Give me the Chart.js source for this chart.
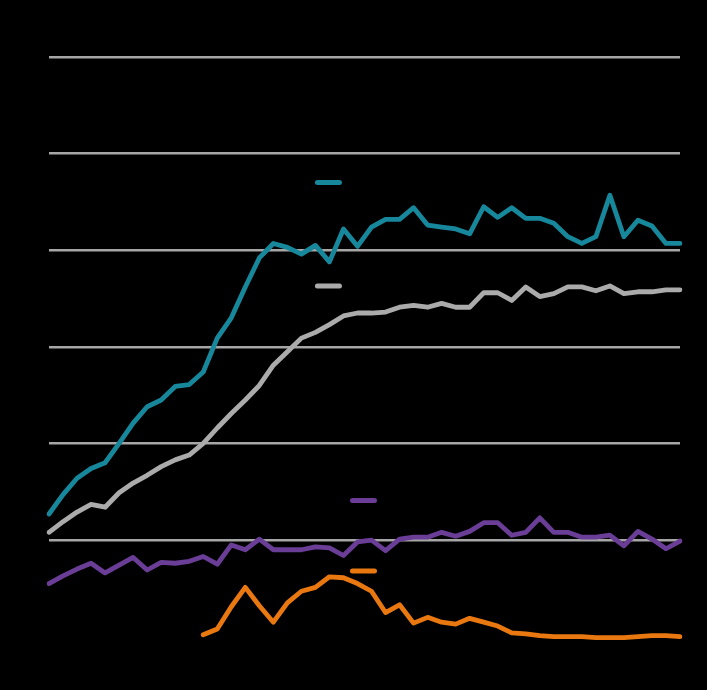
<!DOCTYPE html>
<html>
<head>
<meta charset="utf-8">
<script src="https://cdn.jsdelivr.net/npm/chart.js@4/dist/chart.umd.min.js"></script>
<style>
  html, body { margin: 0; padding: 0; background: #000; }
  #wrap { width: 707px; height: 690px; position: relative; }
</style>
</head>
<body>
<div id="wrap"><canvas id="c" width="707" height="690"></canvas></div>
<script>
// ---- data ----
const years = [];
for (let y = 1975; y <= 2020; y++) years.push(String(y));

const seriesNames = ["Series A", "Series B", "Series C", "Series D"];

const tealValues = [2.7, 4.7, 6.4, 7.4, 8.0, 10.0, 12.1, 13.8, 14.5, 15.9,
  16.1, 17.4, 20.9, 23.0, 26.2, 29.2, 30.7, 30.3, 29.6, 30.5,
  28.8, 32.2, 30.4, 32.4, 33.2, 33.2, 34.4, 32.6, 32.4, 32.2,
  31.7, 34.5, 33.4, 34.4, 33.3, 33.3, 32.8, 31.4, 30.7, 31.4,
  35.7, 31.4, 33.1, 32.5, 30.7, 30.7];

const grayValues = [0.8, 1.9, 2.9, 3.7, 3.4, 4.9, 5.9, 6.7, 7.6, 8.3,
  8.8, 10.0, 11.6, 13.1, 14.5, 16.0, 18.1, 19.5, 20.9, 21.5,
  22.3, 23.2, 23.5, 23.5, 23.6, 24.1, 24.3, 24.1, 24.5, 24.1,
  24.1, 25.6, 25.6, 24.8, 26.2, 25.2, 25.5, 26.2, 26.2, 25.8,
  26.3, 25.5, 25.7, 25.7, 25.9, 25.9];

const purpleValues = [-4.5, -3.7, -3.0, -2.4, -3.4, -2.6, -1.8, -3.1, -2.3, -2.4,
  -2.2, -1.7, -2.5, -0.5, -1.0, 0.1, -1.0, -1.0, -1.0, -0.7,
  -0.8, -1.6, -0.2, 0.0, -1.1, 0.1, 0.3, 0.3, 0.8, 0.4,
  0.9, 1.8, 1.8, 0.5, 0.8, 2.3, 0.8, 0.8, 0.3, 0.3,
  0.5, -0.6, 0.9, 0.1, -0.9, -0.1];

const orangeValues = [null, null, null, null, null, null, null, null, null, null,
  null, -9.8, -9.2, -6.9, -4.9, -6.8, -8.5, -6.5, -5.3, -4.9,
  -3.8, -3.9, -4.5, -5.3, -7.5, -6.7, -8.6, -8.0, -8.5, -8.7,
  -8.1, -8.5, -8.9, -9.6, -9.7, -9.9, -10.0, -10.0, -10.0, -10.1,
  -10.1, -10.1, -10.0, -9.9, -9.9, -10.0];

const yTickValues = [0, 10, 20, 30, 40, 50];

// ---- chart ----
const colors = ["#17879b", "#ababab", "#6a3d97", "#e8780f"];

const bgPlugin = {
  id: 'bg',
  beforeDraw(chart) {
    const ctx = chart.ctx;
    ctx.save();
    ctx.fillStyle = '#000';
    ctx.fillRect(0, 0, chart.width, chart.height);
    ctx.restore();
  }
};

// inline series labels: short line key + text, placed in data coordinates
const keyPlugin = {
  id: 'keys',
  afterDatasetsDraw(chart, args, opts) {
    const ctx = chart.ctx;
    const xs = chart.scales.x, ys = chart.scales.y;
    opts.items.forEach((it) => {
      const ds = chart.data.datasets[it.dataset];
      const x0 = xs.getPixelForValue(it.at[0]);
      const y0 = ys.getPixelForValue(it.at[1]);
      ctx.save();
      ctx.strokeStyle = ds.borderColor;
      ctx.lineWidth = 5;
      ctx.lineCap = 'round';
      ctx.beginPath();
      ctx.moveTo(x0 + 2, y0);
      ctx.lineTo(x0 + 24, y0);
      ctx.stroke();
      ctx.fillStyle = '#000';
      ctx.font = '16px "Liberation Sans", Arial, sans-serif';
      ctx.textBaseline = 'middle';
      ctx.fillText(ds.label, x0 + 32, y0);
      ctx.restore();
    });
  }
};

new Chart(document.getElementById('c'), {
  type: 'line',
  data: {
    labels: years,
    datasets: [
      { label: seriesNames[0], data: tealValues, borderColor: colors[0] },
      { label: seriesNames[1], data: grayValues, borderColor: colors[1] },
      { label: seriesNames[2], data: purpleValues, borderColor: colors[2] },
      { label: seriesNames[3], data: orangeValues, borderColor: colors[3] }
    ]
  },
  options: {
    responsive: false,
    animation: false,
    devicePixelRatio: 1,
    spanGaps: false,
    layout: { padding: { left: 0, right: 27, top: 57, bottom: 0 } },
    elements: {
      line: { borderWidth: 4.8, tension: 0, borderJoinStyle: 'round', borderCapStyle: 'round', fill: false },
      point: { radius: 0, hoverRadius: 0 }
    },
    plugins: {
      legend: { display: false },
      tooltip: { enabled: false },
      keys: {
        items: [
          { dataset: 0, at: [19, 37.0] },
          { dataset: 1, at: [19, 26.3] },
          { dataset: 2, at: [21.5, 4.1] },
          { dataset: 3, at: [21.5, -3.2] }
        ]
      }
    },
    scales: {
      x: {
        type: 'category',
        offset: false,
        grid: { display: false },
        border: { display: false },
        ticks: { color: '#000', maxRotation: 0, autoSkip: true, maxTicksLimit: 10, font: { size: 14, family: '"Liberation Sans", Arial, sans-serif' } },
        afterFit(scale) { scale.height = 34; }
      },
      y: {
        min: -12,
        max: 50,
        afterBuildTicks(scale) {
          scale.ticks = yTickValues.map(v => ({ value: v }));
        },
        grid: { color: '#a6a6a6', lineWidth: 2.6, drawTicks: false },
        border: { display: false },
        ticks: { color: '#000', padding: 6, font: { size: 14, family: '"Liberation Sans", Arial, sans-serif' } },
        afterFit(scale) { scale.width = 49; }
      }
    }
  },
  plugins: [bgPlugin, keyPlugin]
});
</script>
</body>
</html>
